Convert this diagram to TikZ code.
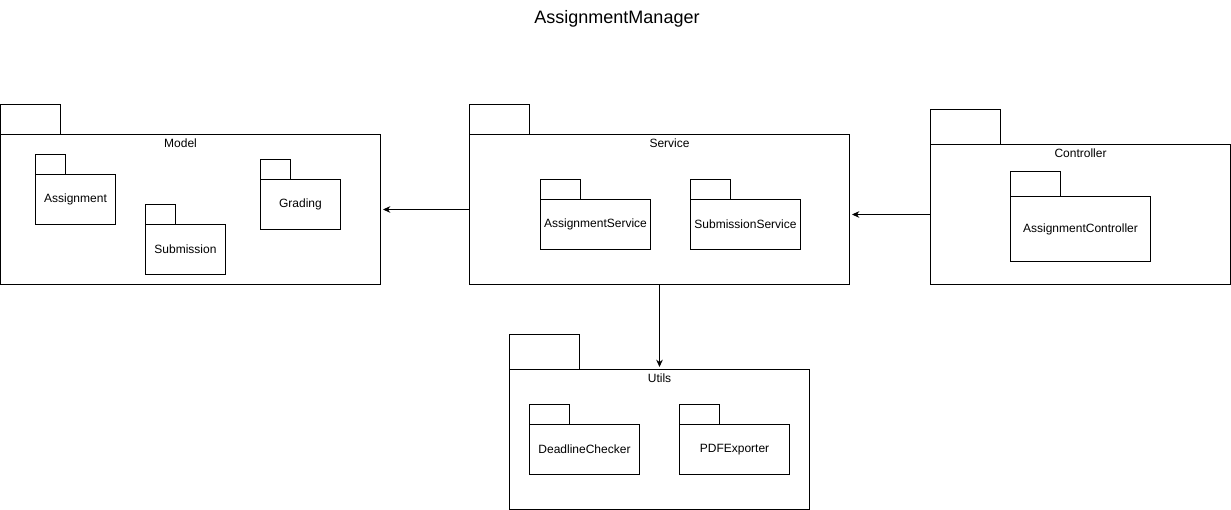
\documentclass[tikz,border=0pt]{standalone}
\usepackage{fontspec}
\setmainfont{Liberation Sans}
\usepackage{tikz}
\usetikzlibrary{arrows.meta, positioning}

\tikzset{
  pkgtab/.style={draw, anchor=north west, inner sep=0pt, line width=0.75pt},
  pkgbody/.style={draw, anchor=north west, inner sep=0pt, line width=0.75pt, align=center, font=\fontsize{9}{11}\selectfont},
  pkglabel/.style={inner sep=1pt, font=\fontsize{9}{11}\selectfont},
  depend/.style={-{Stealth[length=5.5pt, width=5pt]}, line width=0.75pt, shorten >=1.5pt}
}

\begin{document}
\begin{tikzpicture}[x=0.75pt, y=-0.75pt]
  \useasboundingbox (0,0) rectangle (1231,510);

  % Title
  \node[font=\fontsize{13.5}{16}\selectfont] (title) at (617,19) {AssignmentManager};

  % Model package
  \node[pkgtab, minimum width=45pt, minimum height=22.5pt] (modeltab) at (0,104) {};
  \node[pkgbody, minimum width=285pt, minimum height=112.5pt] (model) at (0,134) {};
  \node[pkglabel, below=2.5pt of model.north, xshift=-7.5pt] (modellbl) {Model};
  \node[pkgtab, minimum width=22.5pt, minimum height=15pt] (assigntab) at (35,154) {};
  \node[pkgbody, minimum width=60pt, minimum height=37.5pt] (assign) at (35,174) {Assignment};
  \node[pkgtab, minimum width=22.5pt, minimum height=15pt] (submittab) at (145,204) {};
  \node[pkgbody, minimum width=60pt, minimum height=37.5pt] (submit) at (145,224) {Submission};
  \node[pkgtab, minimum width=22.5pt, minimum height=15pt] (gradetab) at (260,159) {};
  \node[pkgbody, minimum width=60pt, minimum height=37.5pt] (grade) at (260,179) {Grading};

  % Service package
  \node[pkgtab, minimum width=45pt, minimum height=22.5pt] (servicetab) at (469,104) {};
  \node[pkgbody, minimum width=285pt, minimum height=112.5pt] (service) at (469,134) {};
  \node[pkglabel, below=2.5pt of service.north, xshift=7.5pt] (servicelbl) {Service};
  \node[pkgtab, minimum width=30pt, minimum height=15pt] (asvctab) at (540,179) {};
  \node[pkgbody, minimum width=82.5pt, minimum height=37.5pt] (asvc) at (540,199) {AssignmentService};
  \node[pkgtab, minimum width=30pt, minimum height=15pt] (ssvctab) at (690,179) {};
  \node[pkgbody, minimum width=82.5pt, minimum height=37.5pt] (ssvc) at (690,199) {SubmissionService};

  % Controller package
  \node[pkgtab, minimum width=52.5pt, minimum height=26.25pt] (controltab) at (930,109) {};
  \node[pkgbody, minimum width=225pt, minimum height=105pt] (control) at (930,144) {};
  \node[pkglabel, below=2.5pt of control.north] (controllbl) {Controller};
  \node[pkgtab, minimum width=37.5pt, minimum height=18.75pt] (actrltab) at (1010,171) {};
  \node[pkgbody, minimum width=105pt, minimum height=48.75pt] (actrl) at (1010,196) {AssignmentController};

  % Utils package
  \node[pkgtab, minimum width=52.5pt, minimum height=26.25pt] (utilstab) at (509,334) {};
  \node[pkgbody, minimum width=225pt, minimum height=105pt] (utils) at (509,369) {};
  \node[pkglabel, below=2.5pt of utils.north] (utilslbl) {Utils};
  \node[pkgtab, minimum width=30pt, minimum height=15pt] (deadtab) at (529,404) {};
  \node[pkgbody, minimum width=82.5pt, minimum height=37.5pt] (dead) at (529,424) {DeadlineChecker};
  \node[pkgtab, minimum width=30pt, minimum height=15pt] (pdftab) at (679,404) {};
  \node[pkgbody, minimum width=82.5pt, minimum height=37.5pt] (pdf) at (679,424) {PDFExporter};

  % Dependencies
  \draw[depend] (service.west) -- (model.east);
  \draw[depend] (control.west) -- (control.west -| service.east);
  \draw[depend] (service.south) -- (utils.north);
\end{tikzpicture}
\end{document}
